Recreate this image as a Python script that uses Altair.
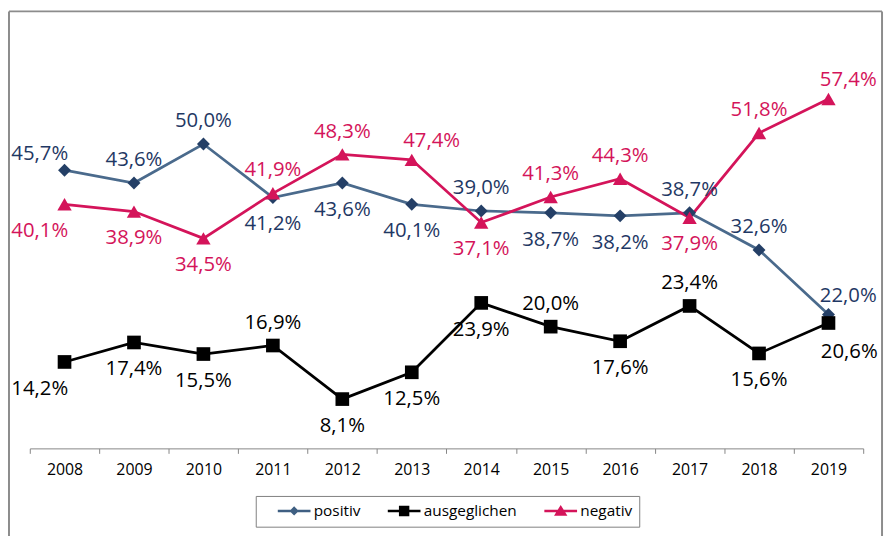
import altair as alt
import pandas as pd

years = ["2008", "2009", "2010", "2011", "2012", "2013", "2014", "2015", "2016", "2017", "2018", "2019"]
series_names = ["positiv", "ausgeglichen", "negativ"]
positiv = [45.7, 43.6, 50.0, 41.2, 43.6, 40.1, 39.0, 38.7, 38.2, 38.7, 32.6, 22.0]
ausgeglichen = [14.2, 17.4, 15.5, 16.9, 8.1, 12.5, 23.9, 20.0, 17.6, 23.4, 15.6, 20.6]
negativ = [40.1, 38.9, 34.5, 41.9, 48.3, 47.4, 37.1, 41.3, 44.3, 37.9, 51.8, 57.4]
# label placement (o = oben, u = unten, l = links, r = rechts)
place_positiv = ["ol", "o", "o", "u", "u", "u", "o", "u", "u", "o", "o", "or"]
place_ausgeglichen = ["ul", "u", "u", "o", "u", "u", "u", "o", "u", "o", "u", "ur"]
place_negativ = ["ul", "u", "u", "o", "o", "or", "u", "o", "o", "u", "o", "or"]

rows = []
for name, vals, places in [("positiv", positiv, place_positiv),
                           ("ausgeglichen", ausgeglichen, place_ausgeglichen),
                           ("negativ", negativ, place_negativ)]:
    for y, v, p in zip(years, vals, places):
        rows.append({"year": y, "series": name, "value": v,
                     "label": f"{v:.1f}".replace(".", ",") + "%", "pos": p})
df = pd.DataFrame(rows)

FONT = "Open Sans"
line_colors = ["#4a6a8c", "#000000", "#d4145a"]
marker_colors = ["#243f66", "#000000", "#d4145a"]
text_colors = ["#1f3864", "#000000", "#d4145a"]

axis_x = alt.Axis(title=None, labelFont=FONT, labelFontSize=16, labelColor="#000000",
                  domainColor="#868686", tickColor="#868686", tickSize=5,
                  tickBand="extent", labelPadding=8, labelAngle=0, grid=False)
X = alt.X("year:O", scale=alt.Scale(type="band", domain=years, paddingInner=0, paddingOuter=0),
          axis=axis_x, bandPosition=0.5)
Y = alt.Y("value:Q", scale=alt.Scale(domain=[0, 70], nice=False, zero=True), axis=None)

base = alt.Chart(df)

lines = base.mark_line(strokeWidth=2.75).encode(
    x=X, y=Y,
    color=alt.Color("series:N", scale=alt.Scale(domain=series_names, range=line_colors), legend=None),
    detail="series:N",
)

points = base.mark_point(filled=True, opacity=1).encode(
    x=X, y=Y,
    fill=alt.Fill("series:N", scale=alt.Scale(domain=series_names, range=marker_colors), legend=None),
    shape=alt.Shape("series:N", scale=alt.Scale(domain=series_names,
                                                range=["diamond", "square", "triangle-up"]), legend=None),
    size=alt.Size("series:N", scale=alt.Scale(domain=series_names, range=[170, 210, 250]), legend=None),
)

offsets = {"o": (0, -23), "u": (0, 27), "ol": (-25, -16), "ul": (-25, 27),
           "or": (20, -19), "ur": (21, 29)}
text_layers = []
for code, (dx, dy) in offsets.items():
    text_layers.append(
        base.transform_filter(alt.datum.pos == code).mark_text(
            font=FONT, fontSize=20.5, dx=dx, dy=dy, baseline="middle", align="center"
        ).encode(
            x=X, y=Y, text="label:N",
            color=alt.Color("series:N", scale=alt.Scale(domain=series_names, range=text_colors), legend=None),
        )
    )

legend_paths = [
    "M1,-0.17H5.4V0.17H1Z M3.2,-0.62L3.82,0L3.2,0.62L2.58,0Z",
    "M1,-0.17H5.4V0.17H1Z M2.5,-0.7H3.9V0.7H2.5Z",
    "M1,-0.17H5.4V0.17H1Z M3.2,-0.8L4.1,0.64L2.3,0.64Z",
]
legend_layer = base.transform_filter("false").mark_point(filled=True).encode(
    x=X, y=Y,
    fill=alt.Fill("series:N", scale=alt.Scale(domain=series_names, range=["#3f5f82", "#000000", "#d4145a"]),
                  legend=alt.Legend(title=None)),
    shape=alt.Shape("series:N", scale=alt.Scale(domain=series_names, range=legend_paths),
                    legend=alt.Legend(title=None)),
)

frame_data = alt.Data(values=[{"a": 1}])
frame_top = alt.Chart(frame_data).mark_rule(color="#8c8c8c", strokeWidth=2).encode(
    x=alt.value(-21), x2=alt.value(860), y=alt.value(-11))
frame_left = alt.Chart(frame_data).mark_rule(color="#8c8c8c", strokeWidth=2).encode(
    x=alt.value(-21), y=alt.value(-11), y2=alt.value(560))
frame_right = alt.Chart(frame_data).mark_rule(color="#8c8c8c", strokeWidth=2).encode(
    x=alt.value(860), y=alt.value(-11), y2=alt.value(560))

chart = alt.layer(
    frame_top, frame_left, frame_right, lines, points, *text_layers, legend_layer
).resolve_scale(
    color="independent", fill="independent", shape="independent", size="independent"
).properties(
    width=841, height=430,
    padding={"left": 22, "top": 12, "right": 22, "bottom": 86},
    autosize=alt.AutoSizeParams(type="none"),
).configure_view(stroke=None).configure_legend(
    orient="none", legendX=228, legendY=478, direction="horizontal",
    strokeColor="#808080", strokeWidth=1, padding=7, cornerRadius=0,
    symbolSize=225, symbolStrokeWidth=0, symbolOpacity=1,
    labelFont=FONT, labelFontSize=15.5, labelColor="#000000", labelOffset=36,
    columnPadding=12, fillColor="#ffffff",
)

chart.save("out.html", embed_options={"renderer": "svg", "actions": False})
